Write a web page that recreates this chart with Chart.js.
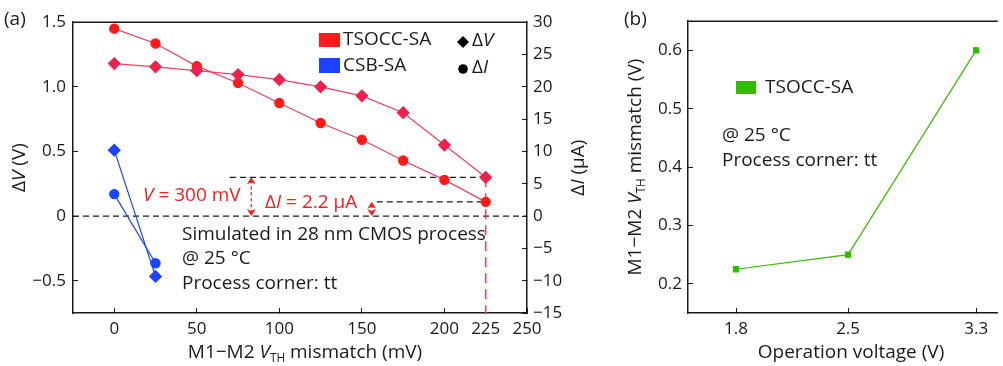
<!DOCTYPE html>
<html>
<head>
<meta charset="utf-8">
<script src="https://cdn.jsdelivr.net/npm/chart.js@4/dist/chart.umd.min.js"></script>
<style>
  html,body{margin:0;padding:0;background:#fff;}
  #wrap{position:relative;width:1003px;height:366px;overflow:hidden;}
  #boxA{position:absolute;left:0;top:0;width:600px;height:366px;}
  #boxB{position:absolute;left:600px;top:0;width:403px;height:366px;}
</style>
</head>
<body>
<div id="wrap">
  <div id="boxA"><canvas id="chartA" width="600" height="366"></canvas></div>
  <div id="boxB"><canvas id="chartB" width="403" height="366"></canvas></div>
</div>
<script>
// ----- data, panel (a) -----
const MISMATCH_MV = [0, 25, 50, 75, 100, 125, 150, 175, 200, 225];
const TSOCC_DV = [1.18, 1.155, 1.125, 1.095, 1.055, 1.0, 0.93, 0.80, 0.55, 0.30];
const TSOCC_DI = [29.0, 26.7, 23.2, 20.6, 17.5, 14.4, 11.8, 8.6, 5.6, 2.2];
const CSB_MISMATCH_MV = [0, 25];
const CSB_DV = [0.51, -0.467];
const CSB_DI = [3.4, -7.3];
const X_TICKS_A = [0, 50, 100, 150, 200, 225, 250];
const DV_TICKS = [-0.5, 0, 0.5, 1.0, 1.5];
const DI_TICKS = [-15, -10, -5, 0, 5, 10, 15, 20, 25, 30];
// reference levels marked on panel (a)
const REF_DV = 0.3, REF_DI = 2.2, REF_X = 225;

// ----- data, panel (b) -----
const OP_VOLTAGE = [1.8, 2.5, 3.3];
const TSOCC_VTH = [0.225, 0.25, 0.6];
const X_TICKS_B = [1.8, 2.5, 3.3];
const Y_TICKS_B = [0.2, 0.3, 0.4, 0.5, 0.6];

// ----- helpers -----
const FONT = '"Open Sans", "Noto Sans", sans-serif';
const FS = 19;      // labels, titles
const TICK_FS = 17; // tick labels
const INK = '#1a1a1a';
const RED = '#ff1a1a', CRIMSON = '#ec2150', LINE_RED = '#f0405e', BLUE = '#1a44ff', GREEN = '#33bb00';
const fmtNum = (v, d) => (v === 0 ? '0' : v.toFixed(d)).replace('-', '\u2212');
const pts = (xs, ys) => xs.map((x, i) => ({x, y: ys[i]}));

// segments: {t, i: italic, s: subscript}
function richWidth(ctx, segs, size){
  let w = 0;
  for(const s of segs){
    const fs = s.s ? size*0.62 : size;
    ctx.font = (s.i ? 'italic ' : '') + fs + 'px ' + FONT;
    w += ctx.measureText(s.t).width;
  }
  return w;
}
function drawRich(ctx, segs, x, y, o={}){
  const size = o.size || FS;
  ctx.save();
  ctx.fillStyle = o.color || INK;
  ctx.textBaseline = 'middle';
  ctx.textAlign = 'left';
  ctx.translate(x, y);
  if(o.rotate) ctx.rotate(o.rotate);
  const w = richWidth(ctx, segs, size);
  let cx = o.align === 'center' ? -w/2 : 0;
  for(const s of segs){
    const fs = s.s ? size*0.62 : size;
    ctx.font = (s.i ? 'italic ' : '') + fs + 'px ' + FONT;
    ctx.fillText(s.t, cx, s.s ? size*0.3 : 0);
    cx += ctx.measureText(s.t).width;
  }
  ctx.restore();
}
function dashLine(ctx, x1, y1, x2, y2, color, dash, lw){
  ctx.save();
  ctx.strokeStyle = color; ctx.lineWidth = lw || 1.2; ctx.setLineDash(dash);
  ctx.beginPath(); ctx.moveTo(x1, y1); ctx.lineTo(x2, y2); ctx.stroke();
  ctx.restore();
}
function dblArrow(ctx, x, yTop, yBot, color){
  dashLine(ctx, x, yTop + 3, x, yBot - 3, color, [3, 3], 1.3);
  ctx.save();
  ctx.fillStyle = color;
  ctx.beginPath();
  ctx.moveTo(x - 4.5, yTop + 7); ctx.lineTo(x, yTop); ctx.lineTo(x + 4.5, yTop + 7); ctx.lineTo(x, yTop + 5); ctx.closePath();
  ctx.moveTo(x - 4.5, yBot - 7); ctx.lineTo(x, yBot); ctx.lineTo(x + 4.5, yBot - 7); ctx.lineTo(x, yBot - 5); ctx.closePath();
  ctx.fill();
  ctx.restore();
}

function axisStyle(extra){
  return Object.assign({
    grid: {drawOnChartArea: false, drawTicks: true, tickLength: -5, color: INK, lineWidth: 1},
    border: {color: INK, width: 1.5}
  }, extra);
}
const tickFont = {family: FONT, size: TICK_FS};
const setTicks = (arr) => (s) => { s.ticks = arr.map(v => ({value: v})); };

// ----- panel (a) extras -----
const extrasA = {
  id: 'extrasA',
  beforeDatasetsDraw(chart){
    const {ctx, chartArea: a, scales} = chart;
    const x = scales.x, yV = scales.yV, yI = scales.yI;
    const y0 = yV.getPixelForValue(0);
    const yDv = yV.getPixelForValue(REF_DV);
    const yDi = yI.getPixelForValue(REF_DI);
    const xr = x.getPixelForValue(REF_X);
    dashLine(ctx, a.left, y0, a.right, y0, INK, [6, 4], 1.3);
    dashLine(ctx, x.getPixelForValue(70), yDv, xr, yDv, INK, [6, 4], 1.3);
    dashLine(ctx, x.getPixelForValue(159), yDi, xr, yDi, INK, [6, 4], 1.3);
    dashLine(ctx, xr, yDv, xr, a.bottom, LINE_RED, [10, 6], 1.5);
    dblArrow(ctx, x.getPixelForValue(83), yDv, y0, RED);
    dblArrow(ctx, x.getPixelForValue(156), yDi, y0, RED);
  },
  afterDraw(chart){
    const {ctx, chartArea: a} = chart;
    ctx.save();
    ctx.strokeStyle = INK; ctx.lineWidth = 1.5;
    ctx.beginPath(); ctx.moveTo(a.left, a.top); ctx.lineTo(a.right, a.top); ctx.stroke();
    ctx.restore();
    drawRich(ctx, [{t:'(a)'}], 4, 20);
    // legend
    ctx.fillStyle = RED; ctx.fillRect(319, 33, 21, 14);
    ctx.fillStyle = BLUE; ctx.fillRect(319, 58, 21, 15);
    drawRich(ctx, [{t:'TSOCC-SA'}], 343, 40);
    drawRich(ctx, [{t:'CSB-SA'}], 343, 66);
    ctx.save();
    ctx.fillStyle = '#000';
    ctx.beginPath(); ctx.moveTo(463, 36); ctx.lineTo(469, 42); ctx.lineTo(463, 48); ctx.lineTo(457, 42); ctx.closePath(); ctx.fill();
    ctx.beginPath(); ctx.arc(463, 69, 4.8, 0, Math.PI*2); ctx.fill();
    ctx.restore();
    drawRich(ctx, [{t:'\u0394'}, {t:'V', i:1}], 472, 41);
    drawRich(ctx, [{t:'\u0394'}, {t:'I', i:1}], 472, 68);
    // annotations
    drawRich(ctx, [{t:'V', i:1}, {t:' = 300 mV'}], 143, 196, {color: RED});
    drawRich(ctx, [{t:'\u0394'}, {t:'I', i:1}, {t:' = 2.2 \u03bcA'}], 265, 203, {color: RED});
    drawRich(ctx, [{t:'Simulated in 28 nm CMOS process'}], 182, 235);
    drawRich(ctx, [{t:'@ 25 \u00b0C'}], 182, 259);
    drawRich(ctx, [{t:'Process corner: tt'}], 182, 284);
    // axis titles
    const cy = (a.top + a.bottom) / 2;
    drawRich(ctx, [{t:'\u0394'}, {t:'V', i:1}, {t:' (V)'}], 20, cy, {rotate: -Math.PI/2, align: 'center'});
    drawRich(ctx, [{t:'\u0394'}, {t:'I', i:1}, {t:' (\u03bcA)'}], 579, cy, {rotate: -Math.PI/2, align: 'center'});
    drawRich(ctx, [{t:'M1\u2212M2 '}, {t:'V', i:1}, {t:'TH', s:1}, {t:' mismatch (mV)'}], (a.left + a.right)/2 + 5, 353, {align: 'center'});
  }
};

new Chart(document.getElementById('chartA'), {
  type: 'line',
  data: {
    datasets: [
      {data: pts(MISMATCH_MV, TSOCC_DV), yAxisID: 'yV', borderColor: LINE_RED, backgroundColor: CRIMSON,
       pointBackgroundColor: CRIMSON, pointBorderColor: CRIMSON, pointStyle: 'rectRot', pointRadius: 5.8, borderWidth: 1.2},
      {data: pts(MISMATCH_MV, TSOCC_DI), yAxisID: 'yI', borderColor: LINE_RED, backgroundColor: RED,
       pointBackgroundColor: RED, pointBorderColor: RED, pointStyle: 'circle', pointRadius: 4.6, borderWidth: 1.2},
      {data: pts(CSB_MISMATCH_MV, CSB_DV), yAxisID: 'yV', borderColor: BLUE, backgroundColor: BLUE,
       pointBackgroundColor: BLUE, pointBorderColor: BLUE, pointStyle: 'rectRot', pointRadius: 5.8, borderWidth: 1.2},
      {data: pts(CSB_MISMATCH_MV, CSB_DI), yAxisID: 'yI', borderColor: BLUE, backgroundColor: BLUE,
       pointBackgroundColor: BLUE, pointBorderColor: BLUE, pointStyle: 'circle', pointRadius: 4.6, borderWidth: 1.2}
    ]
  },
  options: {
    responsive: false, animation: false, devicePixelRatio: 1,
    layout: {padding: {top: 21, left: 0, right: 0, bottom: 0}},
    plugins: {legend: {display: false}, tooltip: {enabled: false}},
    elements: {line: {tension: 0}, point: {borderWidth: 1}},
    scales: {
      x: axisStyle({type: 'linear', position: 'bottom', min: -25, max: 250,
        afterBuildTicks: setTicks(X_TICKS_A), afterFit: s => { s.height = 53; },
        ticks: {color: INK, font: tickFont, padding: 11, maxRotation: 0, callback: v => fmtNum(v, 0)}}),
      yV: axisStyle({type: 'linear', position: 'left', min: -0.75, max: 1.5,
        afterBuildTicks: setTicks(DV_TICKS), afterFit: s => { s.width = 73; },
        ticks: {color: INK, font: tickFont, padding: 12, callback: v => fmtNum(v, 1)}}),
      yI: axisStyle({type: 'linear', position: 'right', min: -15, max: 30,
        afterBuildTicks: setTicks(DI_TICKS), afterFit: s => { s.width = 73; },
        ticks: {color: INK, font: tickFont, padding: 11, callback: v => fmtNum(v, 0)}})
    }
  },
  plugins: [extrasA]
});

// ----- panel (b) -----
const extrasB = {
  id: 'extrasB',
  afterDraw(chart){
    const {ctx, chartArea: a} = chart;
    ctx.save();
    ctx.strokeStyle = INK; ctx.lineWidth = 1.5;
    ctx.beginPath(); ctx.moveTo(a.left, a.top); ctx.lineTo(a.right, a.top); ctx.stroke();
    ctx.restore();
    drawRich(ctx, [{t:'(b)'}], 24, 20);
    ctx.fillStyle = GREEN; ctx.fillRect(136, 81, 20, 13);
    drawRich(ctx, [{t:'TSOCC-SA'}], 165, 88);
    drawRich(ctx, [{t:'@ 25 \u00b0C'}], 122, 136);
    drawRich(ctx, [{t:'Process corner: tt'}], 122, 161);
    const cy = (a.top + a.bottom) / 2;
    drawRich(ctx, [{t:'M1\u2212M2 '}, {t:'V', i:1}, {t:'TH', s:1}, {t:' mismatch (V)'}], 36, cy, {rotate: -Math.PI/2, align: 'center'});
    drawRich(ctx, [{t:'Operation voltage (V)'}], 251, 353, {align: 'center'});
  }
};

new Chart(document.getElementById('chartB'), {
  type: 'line',
  data: {
    datasets: [
      {data: pts(OP_VOLTAGE, TSOCC_VTH), borderColor: GREEN, backgroundColor: GREEN,
       pointBackgroundColor: GREEN, pointBorderColor: GREEN, pointStyle: 'rect', pointRadius: 3.6, borderWidth: 1.2}
    ]
  },
  options: {
    responsive: false, animation: false, devicePixelRatio: 1,
    layout: {padding: {top: 21, left: 0, right: 0, bottom: 0}},
    plugins: {legend: {display: false}, tooltip: {enabled: false}},
    elements: {line: {tension: 0}, point: {borderWidth: 1}},
    scales: {
      x: axisStyle({type: 'linear', position: 'bottom', min: 1.5, max: 3.435,
        afterBuildTicks: setTicks(X_TICKS_B), afterFit: s => { s.height = 53; },
        ticks: {color: INK, font: tickFont, padding: 11, maxRotation: 0, callback: v => v.toFixed(1)}}),
      y: axisStyle({type: 'linear', position: 'left', min: 0.15, max: 0.65,
        afterBuildTicks: setTicks(Y_TICKS_B), afterFit: s => { s.width = 88; },
        ticks: {color: INK, font: tickFont, padding: 11, callback: v => v.toFixed(1)}})
    }
  },
  plugins: [extrasB]
});
</script>
</body>
</html>
